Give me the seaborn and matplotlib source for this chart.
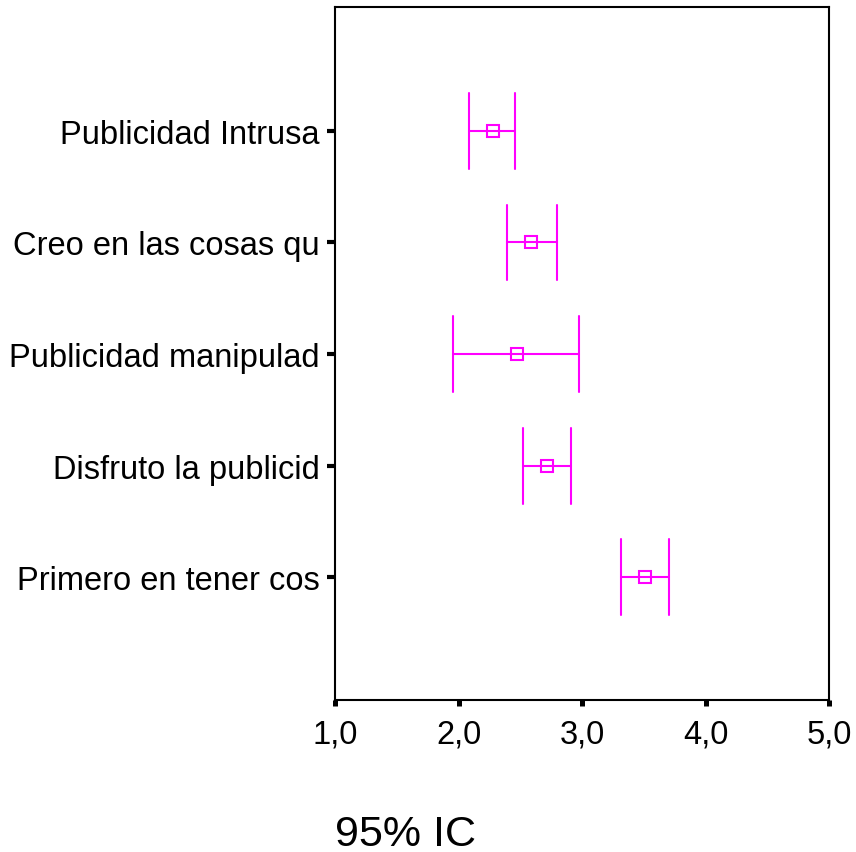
import pandas as pd
import matplotlib
matplotlib.use('Agg')
import matplotlib.pyplot as plt
import seaborn as sns

# Values: mean and 95% CI per item
items = ['Publicidad Intrusa', 'Creo en las cosas qu', 'Publicidad manipulad',
         'Disfruto la publicid', 'Primero en tener cos']
lower = [2.085, 2.393, 1.955, 2.522, 3.316]
mean = [2.279, 2.587, 2.474, 2.714, 3.510]
upper = [2.457, 2.795, 2.973, 2.908, 3.704]
x_ticks = [1, 2, 3, 4, 5]
x_tick_labels = ['1,0', '2,0', '3,0', '4,0', '5,0']

# Long table: three rows per item, so median = mean and min/max = CI limits
df = pd.DataFrame({
    'Item': items * 3,
    'Valor': lower + mean + upper,
})

sns.set_style('white')
plt.rcParams['font.family'] = ['Liberation Sans', 'DejaVu Sans']
plt.rcParams['text.color'] = 'black'
plt.rcParams['axes.labelcolor'] = 'black'
plt.rcParams['xtick.color'] = 'black'
plt.rcParams['ytick.color'] = 'black'

fig = plt.figure(figsize=(8.56, 8.53), dpi=100)
ax = fig.add_axes([335 / 856, 1 - 701 / 853, (829 - 335) / 856, (701 - 8) / 853])

sns.pointplot(data=df, x='Valor', y='Item', order=items,
              estimator='median', errorbar=lambda v: (v.min(), v.max()),
              orient='h', linestyle='none', markers='s', color='#FF00FF',
              capsize=0.68, err_kws={'linewidth': 1.5},
              markersize=8.5, markeredgewidth=1.5, markerfacecolor='white',
              ax=ax)

ax.set_xlim(1, 5)
ax.set_ylim(5.10, -1.11)
ax.set_xticks(x_ticks)
ax.set_xticklabels(x_tick_labels)
ax.set_ylabel('')
ax.set_xlabel('95% IC', fontsize=31, loc='left', labelpad=46)

for side in ['top', 'bottom', 'left', 'right']:
    ax.spines[side].set_visible(True)
    ax.spines[side].set_color('black')
    ax.spines[side].set_linewidth(1.5)

ax.tick_params(axis='x', direction='out', length=4.5, width=3.6, pad=9,
               labelsize=23.5, bottom=True)
ax.tick_params(axis='y', direction='out', length=6, width=3, pad=5,
               labelsize=23.5, left=True)

fig.savefig('out.png', dpi=100)
